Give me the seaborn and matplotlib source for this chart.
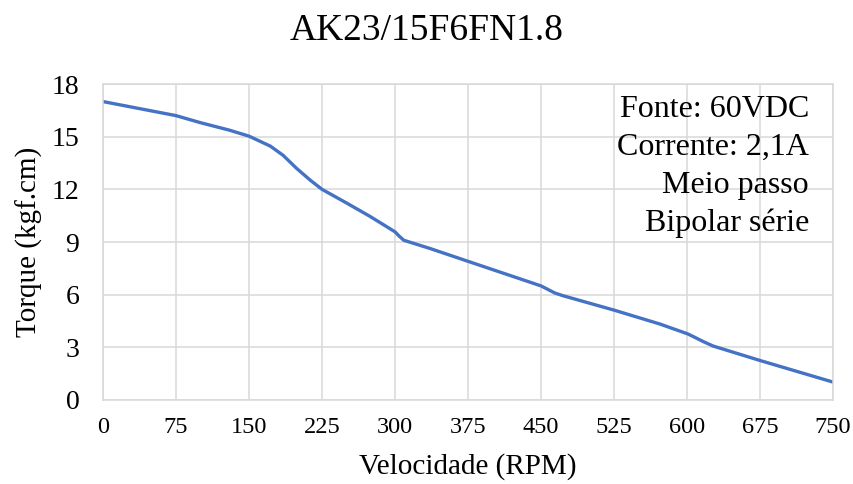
import seaborn as sns
import matplotlib.pyplot as plt
import pandas as pd

# Curve (speed in RPM, torque in kgf.cm)
velocidade = [0, 75, 100, 130, 150, 172, 185, 199, 213, 225, 250, 274, 300, 304, 309,
              336, 375, 450, 457, 464, 472, 525, 572, 601, 608, 617, 627, 675, 750]
torque = [17.0, 16.2, 15.8, 15.37, 15.03, 14.46, 13.94, 13.19, 12.52, 12.0, 11.23, 10.47, 9.58, 9.35, 9.1,
          8.63, 7.9, 6.5, 6.3, 6.1, 5.95, 5.12, 4.33, 3.76, 3.57, 3.32, 3.07, 2.25, 1.02]

x_ticks = [0, 75, 150, 225, 300, 375, 450, 525, 600, 675, 750]
y_ticks = [0, 3, 6, 9, 12, 15, 18]

titulo = "AK23/15F6FN1.8"
notas = ["Fonte: 60VDC", "Corrente: 2,1A", "Meio passo", "Bipolar série"]

sns.set_theme(style="whitegrid")
plt.rcParams['font.family'] = ['Liberation Serif', 'DejaVu Serif']

df = pd.DataFrame({"Velocidade": velocidade, "Torque": torque})

fig = plt.figure(figsize=(8.54, 4.84), dpi=100)
ax = fig.add_axes([0.1206, 0.1736, 0.8548, 0.6528])

sns.lineplot(data=df, x="Velocidade", y="Torque", ax=ax,
             color="#4472C4", linewidth=2.4)

ax.set_xlim(0, 750)
ax.set_ylim(0, 18)
ax.set_xticks(x_ticks)
ax.set_yticks(y_ticks)
ax.tick_params(axis="x", labelsize=17.5, length=0, pad=12, colors="black")
ax.tick_params(axis="y", labelsize=20, length=0, pad=17, colors="black")
ax.grid(True, color="#d9d9d9", linewidth=1.1)
for s in ax.spines.values():
    s.set_color("#d9d9d9")
    s.set_linewidth(1.1)

ax.set_xlabel("Velocidade (RPM)", fontsize=21, labelpad=11, color="black")
ax.set_ylabel("Torque (kgf.cm)", fontsize=21, labelpad=6, color="black")

fig.text(0.5, 0.936, titulo, fontsize=27, ha="center", va="center", color="black")

ax.text(0.967, 0.965, "\n".join(notas), transform=ax.transAxes, ha="right", va="top",
        fontsize=23, linespacing=1.4, color="black")

fig.savefig("out.png", dpi=100)
